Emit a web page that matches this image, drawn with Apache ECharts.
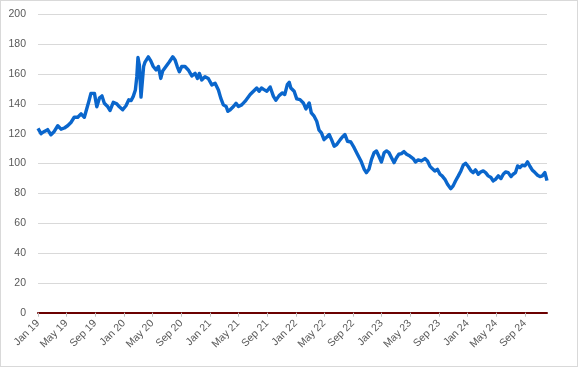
<!DOCTYPE html>
<html>
<head>
<meta charset="utf-8">
<script src="https://cdn.jsdelivr.net/npm/echarts@6/dist/echarts.min.js"></script>
<style>
html,body{margin:0;padding:0;background:#fff;}
#chart{width:576px;height:365px;border:1px solid #d9d9d9;}
</style>
</head>
<body>
<div id="chart"></div>
<script>
const dates = [
'2019-01-01','2019-01-14','2019-01-28','2019-02-11','2019-02-25','2019-03-11','2019-03-26','2019-04-09','2019-04-23','2019-05-07',
'2019-05-21','2019-06-04','2019-06-19','2019-07-03','2019-07-17','2019-07-24','2019-08-05','2019-08-14','2019-08-29','2019-09-08',
'2019-09-19','2019-09-30','2019-10-10','2019-10-25','2019-11-03','2019-11-17','2019-12-02','2019-12-13','2019-12-27',
'2020-01-10','2020-01-22','2020-02-01','2020-02-10','2020-02-19','2020-02-25','2020-03-01','2020-03-07','2020-03-14','2020-03-25',
'2020-03-31','2020-04-14','2020-04-24','2020-05-05','2020-05-17','2020-05-27','2020-06-06','2020-06-14','2020-06-28','2020-07-12',
'2020-07-27','2020-08-06','2020-08-15','2020-08-24','2020-09-03','2020-09-17','2020-10-01','2020-10-16','2020-10-30','2020-11-09',
'2020-11-17','2020-11-27','2020-12-11','2020-12-25',
'2021-01-09','2021-01-23','2021-02-06','2021-02-16','2021-02-27','2021-03-11','2021-03-18','2021-03-28','2021-04-11','2021-04-22',
'2021-05-02','2021-05-16','2021-05-30','2021-06-07','2021-06-21','2021-07-05','2021-07-19','2021-07-29','2021-08-08','2021-08-19',
'2021-08-31','2021-09-14','2021-09-28','2021-10-08','2021-10-22','2021-11-05','2021-11-15','2021-11-26','2021-12-04','2021-12-11',
'2021-12-25',
'2022-01-05','2022-01-19','2022-02-02','2022-02-13','2022-02-27','2022-03-08','2022-03-20','2022-03-31','2022-04-10','2022-04-20',
'2022-05-01','2022-05-13','2022-05-23','2022-06-02','2022-06-13','2022-06-24','2022-07-09','2022-07-18','2022-07-29','2022-08-09',
'2022-08-23','2022-09-06','2022-09-20','2022-10-05','2022-10-19','2022-10-28','2022-11-08','2022-11-19','2022-11-30','2022-12-10',
'2022-12-20','2022-12-31',
'2023-01-12','2023-01-22','2023-02-01','2023-02-12','2023-02-23','2023-03-05','2023-03-15','2023-03-26','2023-04-06','2023-04-17',
'2023-05-01','2023-05-15','2023-05-25','2023-06-05','2023-06-19','2023-07-04','2023-07-15','2023-07-25','2023-08-04','2023-08-15',
'2023-08-26','2023-09-06','2023-09-15','2023-09-27','2023-10-08','2023-10-22','2023-11-01','2023-11-11','2023-11-23','2023-12-04',
'2023-12-14','2023-12-24',
'2024-01-04','2024-01-16','2024-01-25','2024-02-04','2024-02-16','2024-02-27','2024-03-08','2024-03-18','2024-03-29','2024-04-10',
'2024-04-19','2024-04-29','2024-05-11','2024-05-22','2024-06-01','2024-06-11','2024-06-22','2024-07-04','2024-07-13','2024-07-23',
'2024-08-01','2024-08-11','2024-08-21','2024-09-01','2024-09-12','2024-09-23','2024-10-02','2024-10-14','2024-10-25','2024-11-04',
'2024-11-14','2024-11-25','2024-12-04'
];
const values = [
123.5,120,121.5,122.7,119.3,121.5,125.3,123,123.8,125.3,
127.5,131,131,133.3,131,132,141.6,147,147,138,
143.8,145.3,140.4,138,135.5,141,140,138,136,
138.7,142.7,142.2,145,149.3,158,171,166,144.5,165,
168,171.5,169,165,162.7,165,157,162,165,168,
171.5,169.3,165,161.5,165,165,162.7,158.7,160.4,157,
160.4,156,158.2,157,
152.7,153.8,149.3,143.8,139.3,138.2,135,136,138.2,140.4,
138.2,139.3,141.6,141.7,146.2,148.4,150.6,148.4,150.6,149.5,
148.4,151.3,145,142.4,145.5,147.3,146.2,152.9,154.4,150.6,
148.4,
143.3,142.8,140.6,136.6,140.6,133.9,131.7,128.3,122.3,120.5,
116,117.8,119.4,116,111.6,112.7,116,117.8,119.4,114.9,
114.4,110.6,106.2,101.7,96.1,93.9,96.1,102.8,107.3,108.4,
105,101,
107.3,108.4,107.3,103.9,100.6,103.9,106.2,106.6,108,106.2,
105,103.3,101,102.4,101.7,103.3,101.7,98.3,96.6,95,
96.1,92.8,91.7,89.4,86.1,83.1,85,88.3,91.7,95,
98.9,100.2,
98,95,93.9,95.7,92.8,94.4,95,93.9,91.7,90.6,
88.3,89.4,91.7,89.9,92.8,94.4,93.9,91.2,92.8,93.9,
98.4,97.3,98.9,98.4,101.1,98,95.7,93.9,92.1,91.2,
91.7,93.9,88.5
];
const tickDates = ['2019-01-01','2019-05-01','2019-09-01','2020-01-01','2020-05-01','2020-09-01','2021-01-01','2021-05-01','2021-09-01',
'2022-01-01','2022-05-01','2022-09-01','2023-01-01','2023-05-01','2023-09-01','2024-01-01','2024-05-01','2024-09-01'];
const tickLabels = ['Jan 19','May 19','Sep 19','Jan 20','May 20','Sep 20','Jan 21','May 21','Sep 21',
'Jan 22','May 22','Sep 22','Jan 23','May 23','Sep 23','Jan 24','May 24','Sep 24'];
const yTicks = [0,20,40,60,80,100,120,140,160,180,200];

function ts(s){const p=s.split('-').map(Number);return Date.UTC(p[0],p[1]-1,p[2]);}
const tickTs = tickDates.map(ts);
const labelMap = {};
tickTs.forEach((t,i)=>{labelMap[t]=tickLabels[i];});

const chart = echarts.init(document.getElementById('chart'));
chart.setOption({
  animation:false,
  backgroundColor:'#ffffff',
  grid:{left:37,right:30,top:13.3,bottom:53.3,containLabel:false},
  xAxis:{
    type:'value',
    min:ts(dates[0]),
    max:ts(dates[dates.length-1]),
    axisLine:{show:true,lineStyle:{color:'#6b0000',width:2}},
    axisTick:{show:true,customValues:tickTs,length:4,lineStyle:{color:'#bfbfbf',width:1}},
    axisLabel:{show:true,customValues:tickTs,rotate:45,margin:9,color:'#595959',
      fontFamily:'Liberation Sans, Arial, sans-serif',fontSize:10.5,
      formatter:function(v){return labelMap[v]!==undefined?labelMap[v]:'';}},
    splitLine:{show:false},
    minorTick:{show:false}
  },
  yAxis:{
    type:'value',min:yTicks[0],max:yTicks[yTicks.length-1],interval:20,
    axisLine:{show:false},axisTick:{show:false},
    axisLabel:{color:'#595959',fontFamily:'Liberation Sans, Arial, sans-serif',fontSize:10.5,margin:12},
    splitLine:{show:true,lineStyle:{color:'#d9d9d9',width:1}}
  },
  series:[{
    type:'line',
    data:dates.map((d,i)=>[ts(d),values[i]]),
    showSymbol:false,
    symbol:'none',
    lineStyle:{color:'#0a66cc',width:3.4,join:'round'},
    z:3
  }]
});
</script>
</body>
</html>
